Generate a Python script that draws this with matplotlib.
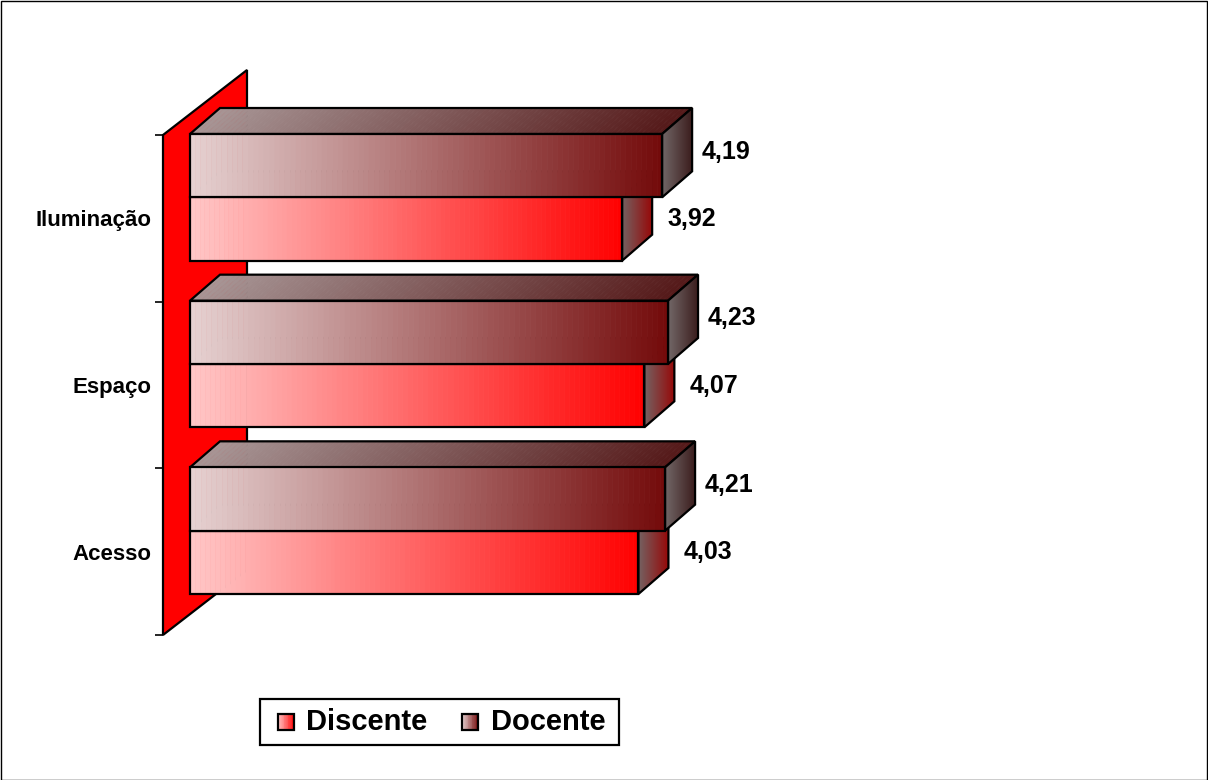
import numpy as np
import matplotlib.pyplot as plt
from matplotlib.patches import Polygon, Rectangle
from matplotlib.collections import PolyCollection
from matplotlib.transforms import IdentityTransform

plt.rcParams['font.family'] = ['Liberation Sans', 'DejaVu Sans']
plt.rcParams['font.weight'] = 'bold'

categorias = ['Acesso', 'Espaço', 'Iluminação']
discente = [4.03, 4.07, 3.92]
docente = [4.21, 4.23, 4.19]
series = ['Discente', 'Docente']

W, H = 1208, 780
fig = plt.figure(figsize=(W / 100, H / 100), dpi=100)
ax = fig.add_axes([163 / W, 145 / H, 592 / W, 500 / H])
ax.set_xlim(1, 5)
ax.set_ylim(-0.5, 2.5)
ax.patch.set_visible(False)
for s in ax.spines.values():
    s.set_visible(False)
ax.set_xticks([])
ax.set_yticks([-0.5, 0.5, 1.5, 2.5], labels=[''] * 4)
ax.tick_params(axis='y', which='major', length=5.8, width=1.2, color='black')
ax.set_yticks(range(len(categorias)), labels=categorias, minor=True)
ax.tick_params(axis='y', which='minor', length=0, pad=8, labelsize=16)

# depth offsets (display pixels)
WALL = (84, 65)
FRONT = (27, 21)
BACK = (57, 47)
bar_h = 0.38
LW = 1.6


def px(v, y, off=(0, 0)):
    x0, y0 = ax.transData.transform((v, y))
    return np.array([x0 + off[0], y0 + off[1]])


def face(p00, p10, p11, p01, c0, c1, z, n=90):
    c0 = np.array(c0) / 255
    c1 = np.array(c1) / 255
    u = np.linspace(0, 1, n + 1)
    polys, cols = [], []
    for a, b in zip(u[:-1], u[1:]):
        polys.append([p00 + (p10 - p00) * a, p00 + (p10 - p00) * b,
                      p01 + (p11 - p01) * b, p01 + (p11 - p01) * a])
        cols.append(c0 + (c1 - c0) * (a + b) / 2)
    pc = PolyCollection(polys, facecolors=cols, edgecolors=cols, linewidths=0.5,
                        transform=IdentityTransform(), zorder=z)
    pc.set_clip_on(False)
    ax.add_collection(pc, autolim=False)
    ol = Polygon([p00, p10, p11, p01], closed=True, fill=False, edgecolor='black',
                 lw=LW, transform=IdentityTransform(), zorder=z + 0.1, clip_on=False)
    ax.add_patch(ol)


# side wall
wall = Polygon([px(1, -0.5), px(1, 2.5), px(1, 2.5, WALL), px(1, -0.5, WALL)],
               closed=True, facecolor='#ff0000', edgecolor='black', lw=LW,
               transform=IdentityTransform(), zorder=1, clip_on=False)
ax.add_patch(wall)

styles = {
    'Discente': dict(front=((255, 200, 200), (255, 0, 0)),
                     top=((230, 150, 150), (200, 20, 20)),
                     side=((115, 100, 100), (150, 10, 10)),
                     lab=(45, 10)),
    'Docente': dict(front=((230, 210, 210), (115, 10, 10)),
                    top=((168, 150, 150), (85, 25, 25)),
                    side=((115, 105, 105), (60, 30, 30)),
                    lab=(40, 14)),
}

z = 2
for i in range(len(categorias))[::-1]:
    for name, vals, y0 in (('Discente', discente, i - bar_h), ('Docente', docente, i)):
        v = vals[i]
        y1 = y0 + bar_h
        st = styles[name]
        face(px(1, y1, FRONT), px(v, y1, FRONT), px(v, y1, BACK), px(1, y1, BACK),
             *st['top'], z)
        face(px(v, y0, FRONT), px(v, y0, BACK), px(v, y1, BACK), px(v, y1, FRONT),
             *st['side'], z + 1)
        face(px(1, y0, FRONT), px(v, y0, FRONT), px(v, y1, FRONT), px(1, y1, FRONT),
             *st['front'], z + 2)
        lx, ly = px(v, (y0 + y1) / 2, FRONT)
        dx, dy = st['lab']
        ax.text(lx + dx, ly + dy, f'{v:.2f}'.replace('.', ','), transform=IdentityTransform(),
                ha='left', va='center', fontsize=18, fontweight='bold', clip_on=False,
                zorder=50)
        z += 3

# legend
leg_box = Rectangle((260, H - 745), 359, 46, facecolor='white', edgecolor='black',
                    lw=LW, transform=IdentityTransform(), zorder=60, clip_on=False)
ax.add_patch(leg_box)
for name, sx, tx in (('Discente', 278, 306), ('Docente', 462, 491)):
    c0, c1 = styles[name]['front']
    sq = 16
    face(np.array([sx, H - 730.0]), np.array([sx + sq, H - 730.0]),
         np.array([sx + sq, H - 714.0]), np.array([sx, H - 714.0]), c0, c1, 61, n=20)
    ax.text(tx, H - 722, name, transform=IdentityTransform(), ha='left', va='center',
            fontsize=21, fontweight='bold', zorder=63, clip_on=False)

# chart border
fig.add_artist(Rectangle((0.5 / W, 0.5 / H), 1 - 1.5 / W, 1 - 1.5 / H, fill=False,
                         edgecolor='black', lw=1.0, transform=fig.transFigure))

fig.savefig('out.png', dpi=100)
